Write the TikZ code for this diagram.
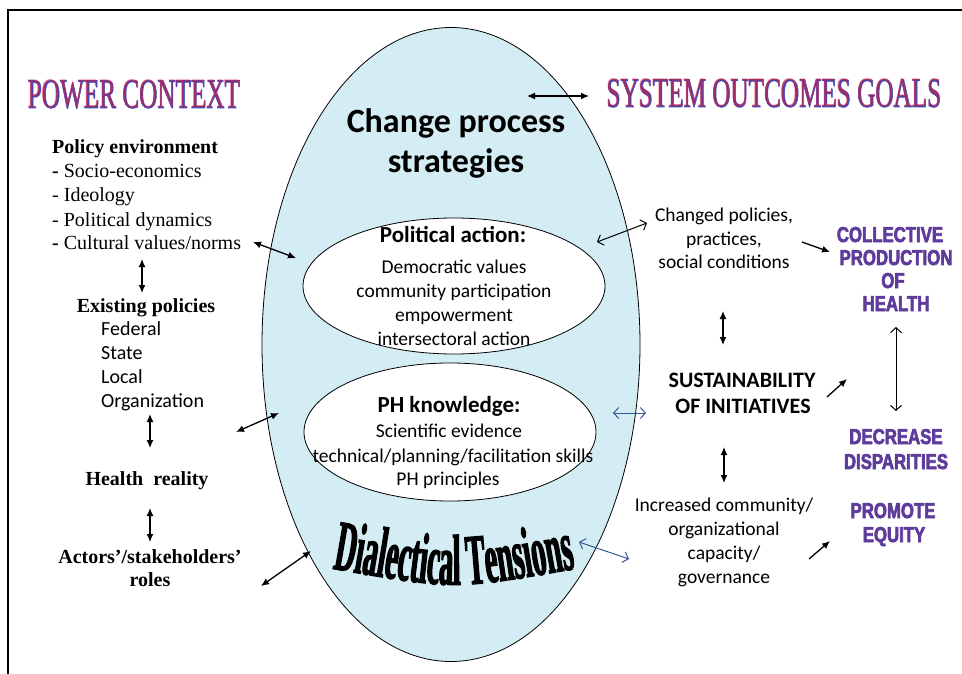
\documentclass[tikz,border=0pt]{standalone}
\usepackage{fontspec}
\setmainfont{Liberation Serif}
\newfontfamily\calfont{Carlito}
\newfontfamily\waFill[FakeStretch=0.6]{Liberation Serif}
\newfontfamily\waLine[FakeStretch=0.6,FakeBold=1.2]{Liberation Serif}
\newfontfamily\dtFont[FakeStretch=0.4,FakeBold=1.5]{Liberation Serif}
\newfontfamily\imFont[FakeStretch=0.78,FakeBold=3]{Liberation Sans}
\usetikzlibrary{arrows.meta,decorations.text,shapes.geometric}
\definecolor{ovalfill}{RGB}{212,236,243}
\definecolor{waBlue}{RGB}{70,70,180}
\definecolor{waRed}{RGB}{215,30,60}
\definecolor{goalc}{RGB}{95,60,155}
\definecolor{arrowblue}{RGB}{50,90,150}
\tikzset{
  txt/.style={inner sep=0pt, anchor=base},
  tl/.style={txt, anchor=base west, font=\fontsize{20}{24}\selectfont},
  tbc/.style={txt, font=\bfseries\fontsize{20}{24}\selectfont},
  cl/.style={txt, anchor=base west, font=\calfont\fontsize{20}{24}\selectfont},
  cc/.style={txt, font=\calfont\fontsize{19.5}{24}\selectfont},
  cbig/.style={txt, font=\calfont\bfseries\fontsize{34}{40}\selectfont},
  chead/.style={txt, font=\calfont\bfseries\fontsize{23}{26}\selectfont},
  csus/.style={txt, font=\calfont\bfseries\fontsize{22}{26}\selectfont},
  goal/.style={txt, text=goalc, font=\imFont\bfseries\fontsize{21.5}{24}\selectfont},
  waout/.style={txt, text=waBlue, font=\waLine\fontsize{42}{44}\selectfont},
  wain/.style={txt, text=waRed, text opacity=0.6, font=\waFill\fontsize{42}{44}\selectfont},
  oval/.style={ellipse, draw=black, line width=0.8pt, inner sep=0pt},
  fhead/.style={{Latex[length=8pt,width=7pt]}-{Latex[length=8pt,width=7pt]}, line width=1.3pt},
  fsing/.style={-{Latex[length=8pt,width=7pt]}, line width=1.3pt},
  ohead/.style={{Straight Barb[length=5pt,width=11pt]}-{Straight Barb[length=5pt,width=11pt]}, line width=1pt},
}
\begin{document}
\begin{tikzpicture}[x=1pt,y=-1pt]
\useasboundingbox (0,0) rectangle (962,674);
\draw[line width=1.5pt] (962,10) -- (8,10) -- (8,674);

% central ovals
\node[oval, fill=ovalfill, minimum width=378pt, minimum height=634pt] (big) at (451,344.5) {};
\node[oval, fill=white, minimum width=302pt, minimum height=136pt] (pol) at (454,286) {};
\node[oval, fill=white, minimum width=292pt, minimum height=138pt] (phk) at (450,432) {};

% headings (WordArt look)
\node[waout] (pc1) at (134,108) {POWER CONTEXT};
\node[wain] (pc2) at (134,108) {POWER CONTEXT};
\node[waout] (so1) at (774,107) {SYSTEM OUTCOMES GOALS};
\node[wain] (so2) at (774,107) {SYSTEM OUTCOMES GOALS};

% left column
\node[tl, font=\bfseries\fontsize{20}{24}\selectfont] (pe) at (52,154) {Policy environment};
\node[tl] (se) at (52,178) {\textbf{-} Socio-economics};
\node[tl] (id) at (52,202) {- Ideology};
\node[tl] (pd) at (52,226) {- Political dynamics};
\node[tl] (cv) at (52,250) {\textbf{-} Cultural values/norms};
\node[tbc] (ep) at (146,312) {Existing policies};
\node[cl] (fed) at (101,335) {Federal};
\node[cl] (sta) at (101,359) {State};
\node[cl] (loc) at (101,383) {Local};
\node[cl] (org) at (101,407) {Organization};
\node[tbc] (hr) at (147,485) {Health\ \ reality};
\node[tbc] (as) at (150,563) {Actors’/stakeholders’};
\node[tbc] (ro) at (150,586) {roles};

% centre texts
\node[cbig] (cp1) at (456,133) {Change process};
\node[cbig] (cp2) at (456,173) {strategies};
\node[chead] (pa) at (453,242) {Political action:};
\node[cc] (pa1) at (454,273) {Democratic values};
\node[cc] (pa2) at (454,297) {community participation};
\node[cc] (pa3) at (454,321) {empowerment};
\node[cc] (pa4) at (454,345) {intersectoral action};
\node[chead] (ph) at (449,412) {PH knowledge:};
\node[cc] (ph1) at (449,437) {Scientific evidence};
\node[cc] (ph2) at (453,462) {technical/planning/facilitation skills};
\node[cc] (ph3) at (448,485) {PH principles};
\path[decorate, decoration={text along path, text align=center,
  text={|\dtFont\bfseries\fontsize{72}{72}\selectfont|Dialectical Tensions}}]
  (334,569) .. controls (455,590) .. (574,569);

% right texts
\node[cc] (cg1) at (724,222) {Changed policies,};
\node[cc] (cg2) at (724,245) {practices,};
\node[cc] (cg3) at (724,268) {social conditions};
\node[csus] (su1) at (742,387) {SUSTAINABILITY};
\node[csus] (su2) at (743,413) {OF INITIATIVES};
\node[cc] (ic1) at (724,511) {Increased community/};
\node[cc] (ic2) at (724,535) {organizational};
\node[cc] (ic3) at (724,559) {capacity/};
\node[cc] (ic4) at (724,583) {governance};

% goals
\node[goal] (g1) at (890,242) {COLLECTIVE};
\node[goal] (g2) at (896,265) {PRODUCTION};
\node[goal] (g3) at (893,288) {OF};
\node[goal] (g4) at (896,311) {HEALTH};
\node[goal] (g5) at (896,444) {DECREASE};
\node[goal] (g6) at (896,469) {DISPARITIES};
\node[goal] (g7) at (893,518) {PROMOTE};
\node[goal] (g8) at (894,542) {EQUITY};

% arrow end points
\coordinate (l1a) at (142,259); \coordinate (l1b) at (142,293);
\coordinate (l2a) at (150,414); \coordinate (l2b) at (150,448);
\coordinate (l3a) at (150,508); \coordinate (l3b) at (150,542);
\coordinate (d1a) at (253,242); \coordinate (d1b) at (296,258);
\coordinate (d2a) at (236,432); \coordinate (d2b) at (279,413);
\coordinate (d3a) at (261,586); \coordinate (d3b) at (311,551);
\coordinate (t1a) at (527,96);  \coordinate (t1b) at (589,96);
\coordinate (r1a) at (597,242); \coordinate (r1b) at (647,223);
\coordinate (r2a) at (802,242); \coordinate (r2b) at (830,252);
\coordinate (r3a) at (723,311); \coordinate (r3b) at (723,345);
\coordinate (r4a) at (827,397); \coordinate (r4b) at (847,379);
\coordinate (r5a) at (896,327); \coordinate (r5b) at (896,411);
\coordinate (r6a) at (613,413); \coordinate (r6b) at (646,413);
\coordinate (r7a) at (724,447); \coordinate (r7b) at (724,483);
\coordinate (r8a) at (579,542); \coordinate (r8b) at (629,559);
\coordinate (r9a) at (809,559); \coordinate (r9b) at (830,541);

\draw[fhead] (l1a) -- (l1b);
\draw[fhead] (l2a) -- (l2b);
\draw[fhead] (l3a) -- (l3b);
\draw[fhead] (d1a) -- (d1b);
\draw[fhead] (d2a) -- (d2b);
\draw[fhead] (d3a) -- (d3b);
\draw[fhead] (t1a) -- (t1b);
\draw[ohead] (r1a) -- (r1b);
\draw[fsing] (r2a) -- (r2b);
\draw[fhead] (r3a) -- (r3b);
\draw[fsing] (r4a) -- (r4b);
\draw[ohead] (r5a) -- (r5b);
\draw[ohead, draw=arrowblue] (r6a) -- (r6b);
\draw[fhead] (r7a) -- (r7b);
\draw[ohead, draw=arrowblue] (r8a) -- (r8b);
\draw[fsing] (r9a) -- (r9b);
\end{tikzpicture}
\end{document}
